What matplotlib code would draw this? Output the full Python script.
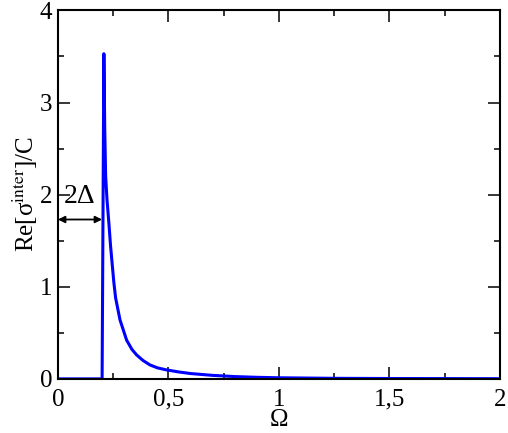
import matplotlib.pyplot as plt
from matplotlib.ticker import MultipleLocator, FuncFormatter

plt.rcParams['font.family'] = ['Liberation Serif', 'DejaVu Serif']
plt.rcParams['mathtext.fontset'] = 'stix'

# values
omega = [0.0, 0.2, 0.208, 0.212, 0.216, 0.222, 0.231, 0.238, 0.244, 0.253,
         0.261, 0.281, 0.311, 0.335, 0.356, 0.385, 0.416, 0.45, 0.49, 0.55,
         0.6, 0.7, 0.8, 0.9, 1.0, 1.25, 1.5, 1.75, 2.0]
sigma = [0.0, 0.0, 3.53, 2.7, 2.2, 1.95, 1.68, 1.45, 1.29, 1.05,
         0.88, 0.64, 0.42, 0.32, 0.26, 0.20, 0.152, 0.12, 0.098, 0.074,
         0.058, 0.038, 0.025, 0.017, 0.012, 0.006, 0.004, 0.003, 0.002]
gap = 0.2

fig = plt.figure(figsize=(5.08, 4.33), dpi=100)
ax = fig.add_axes([0.114, 0.125, 0.870, 0.851])

ax.plot(omega, sigma, color='#0000ff', lw=2.2)

ax.annotate('', xy=(0, 1.73), xytext=(gap, 1.73),
            arrowprops=dict(arrowstyle='<|-|>', color='black', lw=1.3,
                            mutation_scale=10, shrinkA=0, shrinkB=0))
ax.text(0.025, 1.98, '2Δ', fontsize=20, va='center', ha='left')

ax.set_xlim(0, 2)
ax.set_ylim(0, 4)
ax.xaxis.set_major_locator(MultipleLocator(0.5))
ax.xaxis.set_minor_locator(MultipleLocator(0.25))
ax.yaxis.set_major_locator(MultipleLocator(1))
ax.yaxis.set_minor_locator(MultipleLocator(0.5))
ax.xaxis.set_major_formatter(FuncFormatter(lambda v, p: ('%g' % v).replace('.', ',')))

ax.tick_params(which='both', direction='in', top=True, right=True, labelsize=18)
ax.tick_params(which='major', length=8.5, width=1.1, pad=4)
ax.tick_params(axis='x', which='major', pad=7)
ax.tick_params(which='minor', length=4.3, width=1.1)
for s in ax.spines.values():
    s.set_linewidth(1.5)

ax.set_xlabel('Ω', fontsize=18, labelpad=-1)
ax.set_ylabel(r'Re[σ$^{\rm inter}$]/C', fontsize=18, labelpad=0)

fig.savefig('out.png', dpi=100)
